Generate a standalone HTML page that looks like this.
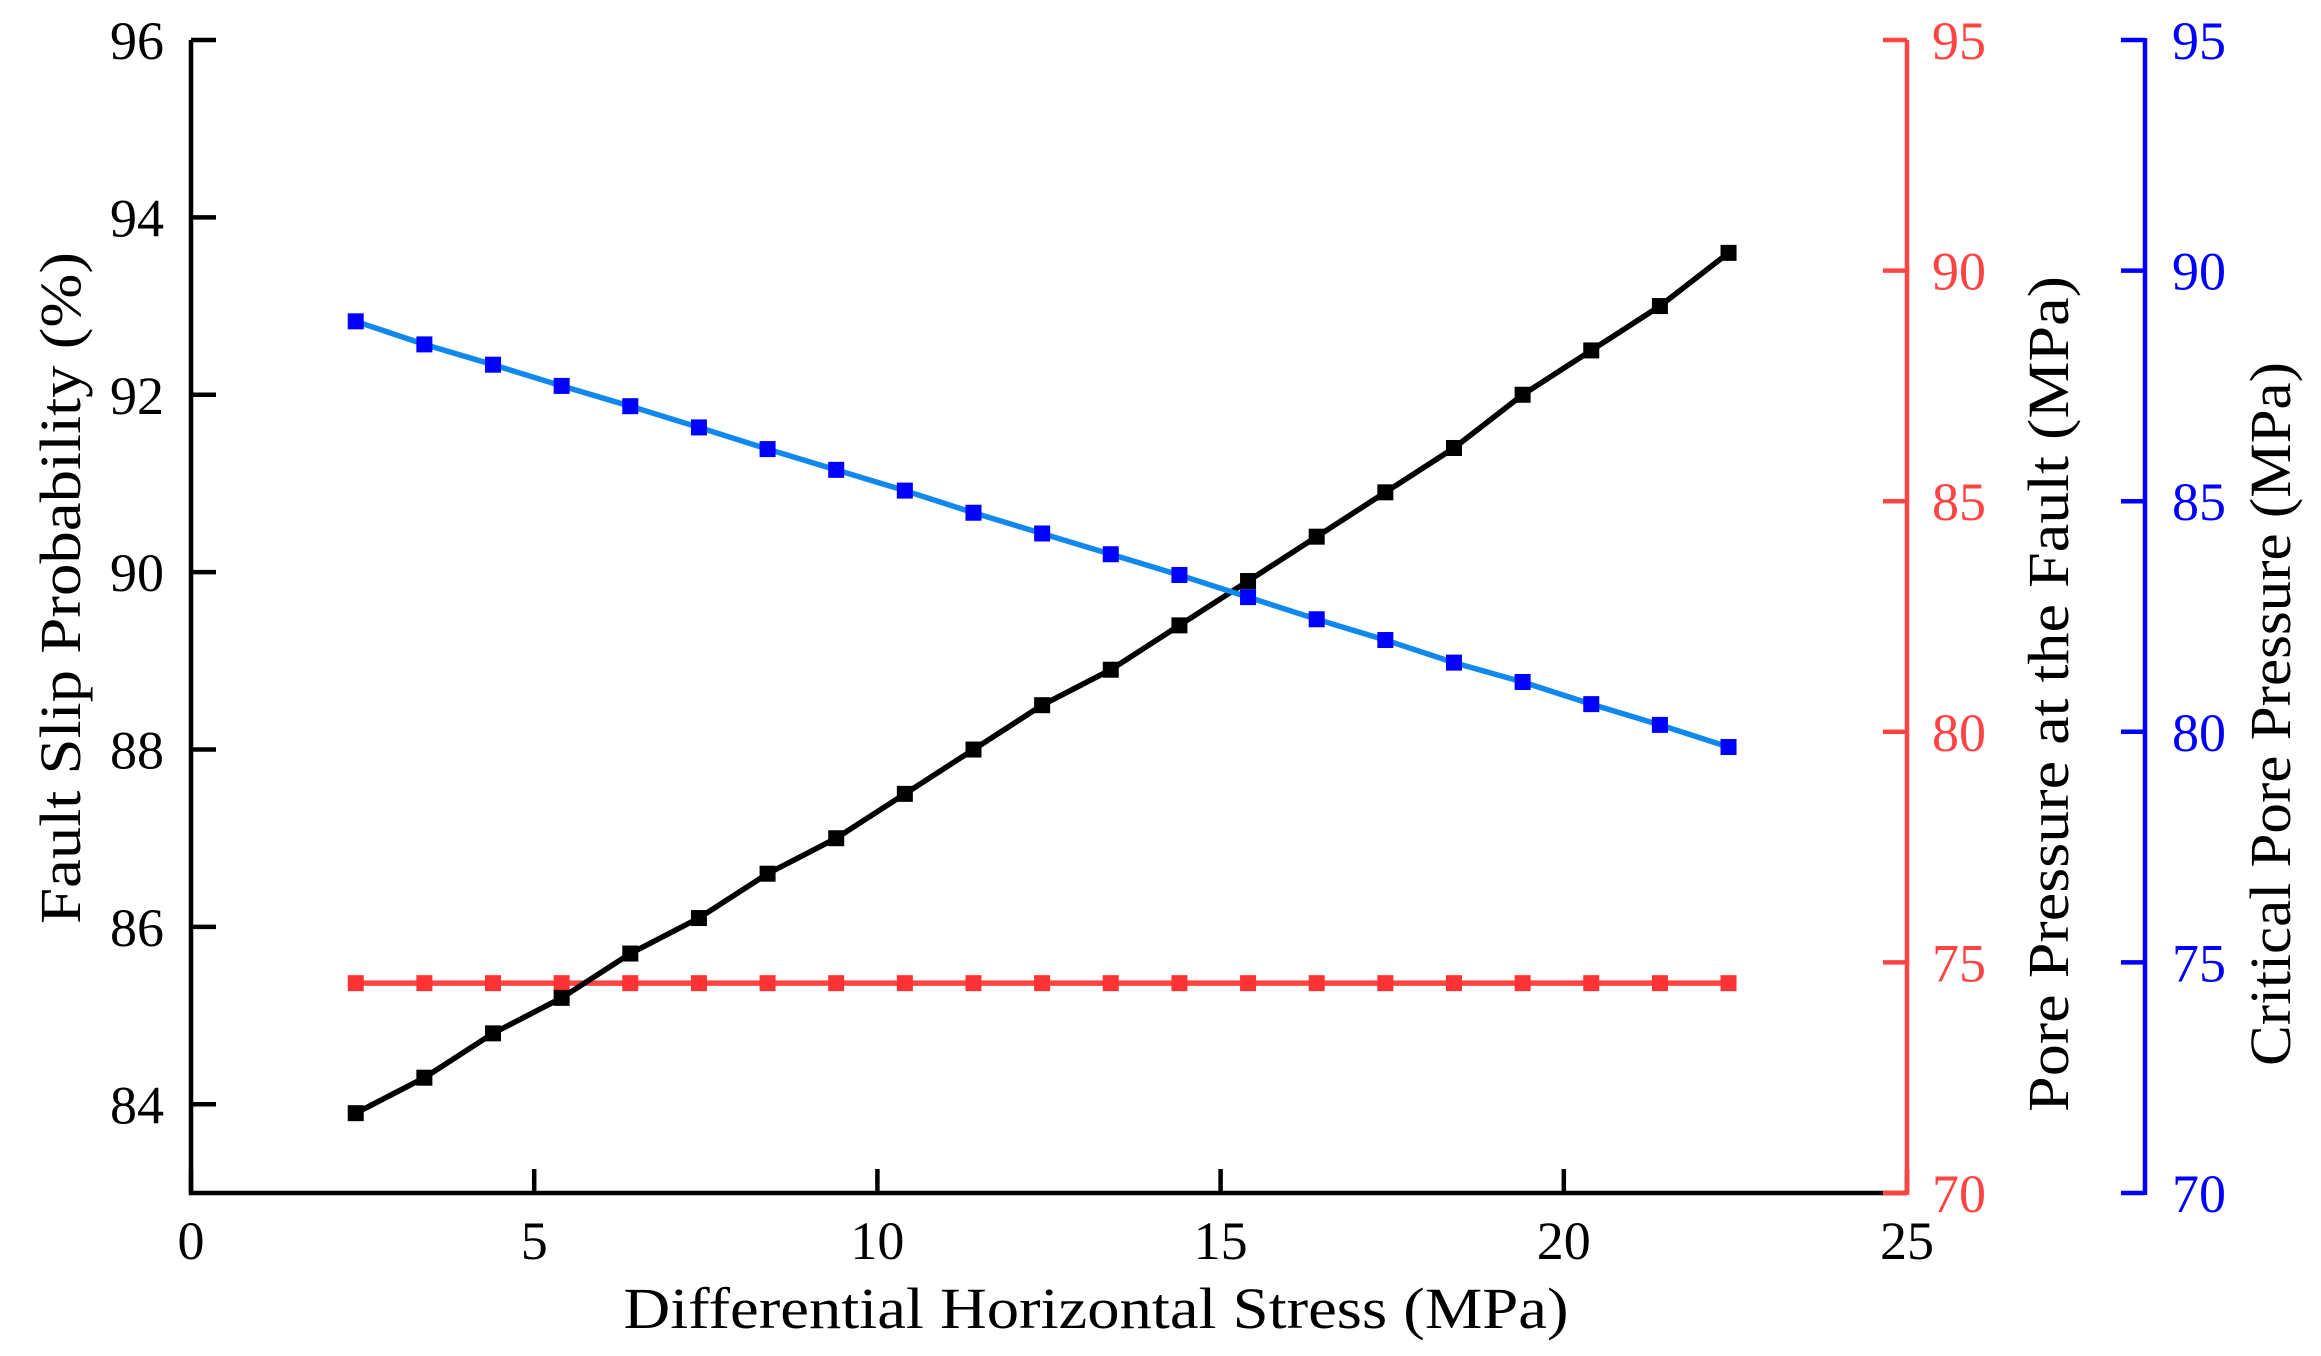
<!DOCTYPE html>
<html><head><meta charset="utf-8"><style>
html,body{margin:0;padding:0;background:#fff}
svg{display:block}
text{font-family:"Liberation Serif",serif}
</style></head><body>
<svg id="chart" width="2321" height="1356" viewBox="0 0 2321 1356" xmlns="http://www.w3.org/2000/svg">
<g id="axes"></g>
<g id="series"></g>
<text x="1096" y="1328" font-size="58" text-anchor="middle" textLength="945" lengthAdjust="spacingAndGlyphs">Differential Horizontal Stress (MPa)</text>
<text transform="translate(80,588) rotate(-90)" font-size="58" text-anchor="middle" textLength="672" lengthAdjust="spacingAndGlyphs">Fault Slip Probability (%)</text>
<text transform="translate(2068,694) rotate(-90)" font-size="58" text-anchor="middle" textLength="836" lengthAdjust="spacingAndGlyphs">Pore Pressure at the Fault (MPa)</text>
<text transform="translate(2290,714) rotate(-90)" font-size="58" text-anchor="middle" textLength="704" lengthAdjust="spacingAndGlyphs">Critical Pore Pressure (MPa)</text>
</svg>
<script>
const xValues = [2.4,3.4,4.4,5.4,6.4,7.4,8.4,9.4,10.4,11.4,12.4,13.4,14.4,15.4,16.4,17.4,18.4,19.4,20.4,21.4,22.4];
const slipProbability = [83.9,84.3,84.8,85.2,85.7,86.1,86.6,87.0,87.5,88.0,88.5,88.9,89.4,89.9,90.4,90.9,91.4,92.0,92.5,93.0,93.6];
const porePressure = [74.55,74.55,74.55,74.55,74.55,74.55,74.55,74.55,74.55,74.55,74.55,74.55,74.55,74.55,74.55,74.55,74.55,74.55,74.55,74.55,74.55];
const criticalPressure = [88.9,88.4,87.96,87.5,87.06,86.6,86.13,85.68,85.23,84.75,84.3,83.85,83.4,82.92,82.44,81.99,81.5,81.08,80.6,80.15,79.67];
const xTicks = [0,5,10,15,20,25];
const leftTicks = [84,86,88,90,92,94,96];
const rightTicks = [70,75,80,85,90,95];

const NS="http://www.w3.org/2000/svg";
const X0=191, X1=1907, YB=1193, YT=40, BX=2145;
const xs=v=>X0+(v-0)/(25-0)*(X1-X0);
const yL=v=>YB-(v-83)/(96-83)*(YB-YT);
const yR=v=>YB-(v-70)/(95-70)*(YB-YT);
const axes=document.getElementById('axes');
const ser=document.getElementById('series');
function mk(tag,attrs,parent){const e=document.createElementNS(NS,tag);for(const k in attrs)e.setAttribute(k,attrs[k]);parent.appendChild(e);return e;}

let e=mk('path',{d:`M${X0},${YT} V${YB} H${X1}`,fill:'none',stroke:'#000','stroke-width':4.5},axes);


xTicks.forEach(t=>{
  const x=xs(t);
  let l=mk('line',{x1:x,x2:x,y1:YB,y2:YB-24,stroke:'#000','stroke-width':4.5},axes);
  
  
  let tx=mk('text',{x:x,y:1259,'font-size':54,'text-anchor':'middle',fill:'#000'},axes);
  tx.textContent=t;
  
  
});
leftTicks.forEach(t=>{
  const y=yL(t);
  let l=mk('line',{x1:X0,x2:X0+25,y1:y,y2:y,stroke:'#000','stroke-width':4.5},axes);
  
  
  let tx=mk('text',{x:164,y:y+19,'font-size':54,'text-anchor':'end',fill:'#000'},axes);
  tx.textContent=t;
  
  
});
e=mk('line',{x1:X1,x2:X1,y1:YT,y2:YB+2,stroke:'#ff4444','stroke-width':4.5},axes);


e=mk('line',{x1:X1-24,x2:X1,y1:YB,y2:YB,stroke:'#ff4444','stroke-width':4.5},axes);


rightTicks.forEach(t=>{
  const y=yR(t);
  let l=mk('line',{x1:X1-24,x2:X1,y1:y,y2:y,stroke:'#ff4444','stroke-width':4.5},axes);
  
  
  let tx=mk('text',{x:1932,y:y+19,'font-size':54,fill:'#ff4444'},axes);
  tx.textContent=t;
  
  
});
e=mk('line',{x1:BX,x2:BX,y1:YT-2,y2:YB+2,stroke:'#0000ff','stroke-width':4.5},axes);


rightTicks.forEach(t=>{
  const y=yR(t);
  let l=mk('line',{x1:BX-24,x2:BX,y1:y,y2:y,stroke:'#0000ff','stroke-width':4.5},axes);
  
  
  let tx=mk('text',{x:2172,y:y+19,'font-size':54,fill:'#0000ff'},axes);
  tx.textContent=t;
  
  
});

function series(vals,yf,lineColor,markColor,name){
  const pts=xValues.map((x,i)=>[xs(x),yf(vals[i])]);
  let p=mk('polyline',{points:pts.map(q=>q.join(',')).join(' '),fill:'none',stroke:lineColor,'stroke-width':5.5},ser);
  
  
  pts.forEach(q=>{
    let r=mk('rect',{x:q[0]-8,y:q[1]-8,width:16,height:16,fill:markColor},ser);
    
    
  });
}
series(porePressure,yR,'#ff4444','#ff3333','pore-pressure');
series(slipProbability,yL,'#000','#000','slip-probability');
series(criticalPressure,yR,'#1188ee','#0000ff','critical-pressure');
</script>
</body></html>
